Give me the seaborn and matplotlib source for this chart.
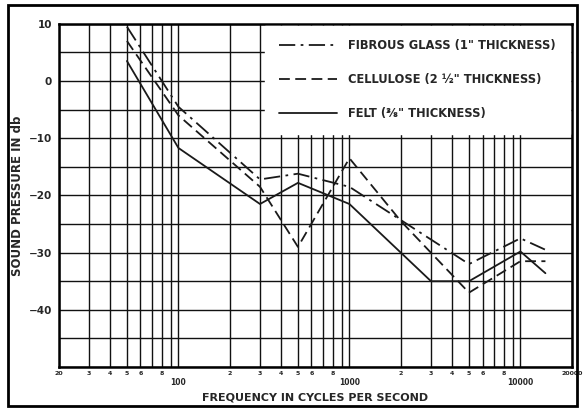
import matplotlib
matplotlib.use('Agg')
import matplotlib.pyplot as plt
import matplotlib.ticker as mticker
from matplotlib.patches import Rectangle
import pandas as pd
import seaborn as sns

sns.set_style('white')
plt.rcParams['font.family'] = ['DejaVu Sans']
plt.rcParams['font.weight'] = 'bold'

# values (frequency in Hz, level in db)
glass_freq = [50, 100, 300, 500, 1000, 5000, 10000, 14000]
glass_db = [9.5, -4.5, -17.2, -16.2, -18.5, -32, -27.5, -29.5]

cellulose_freq = [50, 100, 300, 500, 1000, 2000, 5000, 10000, 14000]
cellulose_db = [7, -6, -18.5, -29, -13.5, -24.5, -37, -31.5, -31.5]

felt_freq = [50, 100, 300, 500, 1000, 3000, 5000, 10000, 14000]
felt_db = [3.5, -11.7, -21.5, -17.8, -21.5, -35, -35, -29.8, -33.6]

labels = ['FIBROUS GLASS (1" THICKNESS)',
          'CELLULOSE (2 ½" THICKNESS)',
          'FELT (⅜" THICKNESS)']

series = [
    (glass_freq, glass_db, labels[0], (9, 3, 1.5, 3)),
    (cellulose_freq, cellulose_db, labels[1], (6, 3)),
    (felt_freq, felt_db, labels[2], None),
]

fig = plt.figure(figsize=(5.83, 4.11), dpi=100)
ax = fig.add_axes([0.101, 0.107, 0.880, 0.835])

for freq, db, name, dash in series:
    df = pd.DataFrame({'freq': freq, 'db': db})
    sns.lineplot(data=df, x='freq', y='db', ax=ax, color='#1a1a1a',
                 lw=1.3, label=name, zorder=3)
    if dash is not None:
        ax.lines[-1].set_dashes(dash)

ax.set_xscale('log')
ax.set_xlim(20, 20000)
ax.set_ylim(-50, 10)

# x ticks: decade labels sit lower than the small multiplier digits
ax.xaxis.set_major_locator(mticker.FixedLocator([100, 1000, 10000]))
ax.xaxis.set_major_formatter(mticker.FixedFormatter(['100', '1000', '10000']))
minor = [m * d for d in (10, 100, 1000) for m in range(2, 10) if m * d >= 20] + [20000]
ax.xaxis.set_minor_locator(mticker.FixedLocator(minor))


def minor_fmt(v, pos):
    if v in (20, 20000):
        return '%d' % v
    m = int(round(v / 10 ** int(len(str(int(v))) - 1)))
    return str(m) if m in (2, 3, 4, 5, 6, 8) else ''


ax.xaxis.set_minor_formatter(mticker.FuncFormatter(minor_fmt))
ax.tick_params(axis='x', which='major', length=0, pad=8, labelsize=5.5)
ax.tick_params(axis='x', which='minor', length=0, pad=3, labelsize=4.5)

ax.set_yticks([-40, -30, -20, -10, 0, 10])
ax.set_yticks(range(-50, 11, 5), minor=True)
ax.tick_params(axis='y', which='both', length=0, pad=5, labelsize=7.5)

ax.grid(which='both', color='#111111', lw=1.0)
for s in ax.spines.values():
    s.set_color('black')
    s.set_linewidth(1.8)

ax.set_xlabel('FREQUENCY IN CYCLES PER SECOND', fontsize=8, fontweight='bold', labelpad=4)
ax.set_ylabel('SOUND PRESSURE IN db', fontsize=8.5, fontweight='bold', labelpad=3)

leg = ax.legend(loc='upper right', bbox_to_anchor=(0.996, 0.995), borderaxespad=0,
                frameon=True, facecolor='white', edgecolor='white', framealpha=1,
                fancybox=False, fontsize=8.3, handlelength=5.0, handletextpad=1.0,
                labelspacing=1.8, borderpad=1.2)
for t in leg.get_texts():
    t.set_fontweight('bold')

fig.patches.append(Rectangle((0.014, 0.012), 0.975, 0.975, transform=fig.transFigure,
                             fill=False, edgecolor='black', lw=2))

fig.savefig('out.png', dpi=100)
